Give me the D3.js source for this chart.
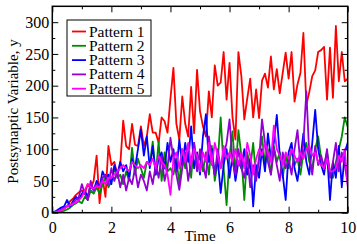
<!DOCTYPE html>
<html>
<head>
<meta charset="utf-8">
<script src="https://cdn.jsdelivr.net/npm/d3@7"></script>
<style>
  body { margin: 0; background: #fff; }
  text { font-family: "Liberation Serif", "DejaVu Serif", serif; }
</style>
</head>
<body>
<svg id="chart" width="357" height="244"></svg>
<script>

// time axis, step 0.1 from 0 to 10
const times = d3.range(0, 101).map(function (i) { return i / 10; });

const seriesNames = ['Pattern 1', 'Pattern 2', 'Pattern 3', 'Pattern 4', 'Pattern 5'];
const seriesColors = ['#ff0000', '#008c00', '#0000ff', '#9400d3', '#ff00ff'];

const pattern1 = [
    0, 1, 2, 4, 6, 10, 18, 22, 28, 32, 35,
    30, 45, 38, 50, 90, 15, 55, 25, 105, 75,
    80, 60, 75, 145, 105, 100, 140, 107, 105, 136,
    105, 120, 155, 126, 126, 110, 150, 144, 126, 180,
    228, 140, 115, 183, 140, 120, 198, 125, 225, 160,
    136, 120, 191, 150, 232, 200, 205, 253, 178, 236,
    150, 115, 253, 215, 147, 180, 211, 150, 194, 149,
    208, 219, 197, 246, 194, 226, 188, 220, 252, 211,
    253, 175, 202, 220, 283, 170, 190, 215, 224, 253,
    256, 261, 178, 260, 181, 294, 207, 253, 207, 211
];
const pattern2 = [
    0, 0, 1, 2, 3, 5, 8, 12, 15, 18, 15,
    25, 20, 35, 30, 40, 30, 45, 55, 40, 50,
    70, 55, 60, 45, 65, 50, 102, 60, 85, 70,
    55, 80, 75, 112, 60, 112, 50, 95, 65, 70,
    60, 85, 45, 100, 70, 95, 55, 110, 75, 90,
    65, 95, 60, 105, 50, 80, 150, 70, 12, 90,
    128, 60, 130, 90, 20, 95, 70, 110, 55, 85,
    120, 75, 100, 60, 105, 80, 95, 55, 90, 70,
    100, 75, 85, 60, 95, 110, 80, 70, 100, 120,
    85, 75, 95, 65, 55, 80, 100, 120, 150, 135
];
const pattern3 = [
    0, 2, 5, 8, 10, 20, 10, 18, 25, 20, 30,
    35, 25, 45, 35, 50, 40, 65, 55, 60, 45,
    75, 60, 80, 65, 75, 55, 85, 70, 100, 131,
    90, 120, 70, 105, 60, 85, 95, 70, 110, 80,
    100, 65, 115, 75, 110, 80, 136, 70, 95, 60,
    120, 155, 80, 100, 60, 85, 31, 75, 100, 55,
    90, 50, 80, 70, 100, 60, 85, 10, 75, 55,
    100, 65, 125, 85, 110, 154, 90, 60, 20, 95,
    110, 70, 50, 85, 125, 80, 60, 110, 162, 100,
    75, 60, 95, 20, 80, 55, 105, 40, 95, 110
];
const pattern4 = [
    0, 1, 3, 5, 8, 10, 12, 15, 20, 25, 45,
    30, 20, 50, 35, 45, 40, 55, 60, 45, 70,
    50, 65, 40, 60, 35, 55, 45, 70, 40, 60,
    50, 35, 65, 45, 75, 55, 90, 50, 70, 118,
    85, 60, 36, 70, 95, 50, 80, 110, 65, 100,
    75, 55, 120, 85, 60, 100, 70, 90, 110, 147,
    80, 60, 100, 70, 55, 90, 40, 75, 50, 85,
    147, 110, 80, 60, 100, 75, 50, 95, 70, 85,
    60, 100, 130, 75, 110, 191, 90, 60, 105, 75,
    90, 70, 100, 55, 80, 110, 65, 95, 75, 45
];
const pattern5 = [
    0, 1, 2, 4, 6, 10, 12, 14, 16, 20, 25,
    35, 45, 40, 38, 42, 40, 50, 45, 55, 55,
    60, 65, 70, 75, 70, 65, 80, 75, 70, 75,
    70, 80, 75, 85, 70, 90, 80, 75, 60, 28,
    85, 95, 70, 100, 80, 110, 75, 100, 90, 65,
    95, 80, 110, 75, 110, 90, 70, 105, 85, 95,
    80, 100, 75, 95, 70, 110, 90, 60, 85, 100,
    90, 110, 95, 80, 137, 100, 90, 75, 95, 85,
    100, 90, 80, 95, 85, 100, 105, 90, 95, 80,
    75, 70, 85, 65, 65, 70, 90, 80, 100, 41
];

const xMajor = [0, 2, 4, 6, 8, 10];
const xMinor = [1, 3, 5, 7, 9];
const yMajor = [0, 50, 100, 150, 200, 250, 300];
const yMinor = [25, 75, 125, 175, 225, 275];

const svg = d3.select('#chart');
const plot = { left: 52.3, right: 347.7, top: 6.3, bottom: 212.7 };

const x = d3.scaleLinear().domain([0, 10]).range([plot.left, plot.right]);
const y = d3.scaleLinear().domain([0, 325]).range([plot.bottom, plot.top]);

// data lines
const allSeries = [pattern1, pattern2, pattern3, pattern4, pattern5];
const line = d3.line()
    .x(function (d, i) { return x(times[i]); })
    .y(function (d) { return y(d); });

svg.append('clipPath').attr('id', 'plotClip')
    .append('rect')
    .attr('x', plot.left).attr('y', plot.top)
    .attr('width', plot.right - plot.left)
    .attr('height', plot.bottom - plot.top);

const linesG = svg.append('g').attr('clip-path', 'url(#plotClip)');
for (var i = 0; i < allSeries.length; i++) {
    linesG.append('path')
        .datum(allSeries[i])
        .attr('d', line)
        .attr('fill', 'none')
        .attr('stroke', seriesColors[i])
        .attr('stroke-width', 1.8)
        .attr('stroke-linejoin', 'round');
}

// axes, ticks pointing inward on all four sides
function addAxis (axis, tx, ty, withLabels) {
    const g = svg.append('g')
        .attr('transform', 'translate(' + tx + ',' + ty + ')')
        .call(axis);
    g.select('.domain').remove();
    g.selectAll('line').attr('stroke', '#000').attr('stroke-width', 1);
    if (withLabels) {
        g.selectAll('text')
            .style('font-family', '"Liberation Serif", "DejaVu Serif", serif')
            .style('font-size', '16px')
            .attr('fill', '#000');
    } else {
        g.selectAll('text').remove();
    }
    return g;
}

addAxis(d3.axisBottom(x).tickValues(xMajor).tickSize(-6).tickPadding(9).tickFormat(d3.format('d')), 0, plot.bottom, true);
addAxis(d3.axisBottom(x).tickValues(xMinor).tickSize(-3), 0, plot.bottom, false);
addAxis(d3.axisTop(x).tickValues(xMajor).tickSize(-6), 0, plot.top, false);
addAxis(d3.axisTop(x).tickValues(xMinor).tickSize(-3), 0, plot.top, false);

addAxis(d3.axisLeft(y).tickValues(yMajor).tickSize(-6).tickPadding(3).tickFormat(d3.format('d')), plot.left, 0, true);
addAxis(d3.axisLeft(y).tickValues(yMinor).tickSize(-3), plot.left, 0, false);
addAxis(d3.axisRight(y).tickValues(yMajor).tickSize(-6), plot.right, 0, false);
addAxis(d3.axisRight(y).tickValues(yMinor).tickSize(-3), plot.right, 0, false);

svg.append('rect')
    .attr('x', plot.left).attr('y', plot.top)
    .attr('width', plot.right - plot.left)
    .attr('height', plot.bottom - plot.top)
    .attr('fill', 'none')
    .attr('stroke', '#000')
    .attr('stroke-width', 1.5);

// axis titles
svg.append('text')
    .attr('x', (plot.left + plot.right) / 2)
    .attr('y', 241)
    .attr('text-anchor', 'middle')
    .style('font-size', '15px')
    .text('Time');

svg.append('text')
    .attr('transform', 'translate(18,' + ((plot.top + plot.bottom) / 2 + 2) + ') rotate(-90)')
    .attr('text-anchor', 'middle')
    .style('font-size', '15px')
    .text('Postsynaptic Variable, y');

// legend
const legend = svg.append('g').attr('transform', 'translate(67,20)');
legend.append('rect')
    .attr('width', 84).attr('height', 76)
    .attr('fill', '#fff')
    .attr('stroke', '#000')
    .attr('stroke-width', 1);

for (var j = 0; j < seriesNames.length; j++) {
    var ly = 11.5 + j * 14.3;
    legend.append('line')
        .attr('x1', 5).attr('x2', 19)
        .attr('y1', ly).attr('y2', ly)
        .attr('stroke', seriesColors[j])
        .attr('stroke-width', 1.8);
    legend.append('text')
        .attr('x', 22).attr('y', ly + 5)
        .style('font-size', '15.5px')
        .text(seriesNames[j]);
}
</script>
</body>
</html>
